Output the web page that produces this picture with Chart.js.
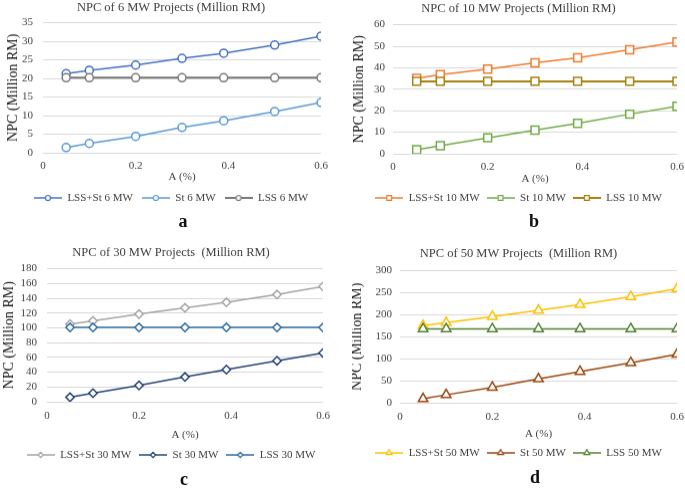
<!DOCTYPE html>
<html><head><meta charset="utf-8">
<script src="https://cdn.jsdelivr.net/npm/chart.js@4"></script>
<style>
html,body{margin:0;padding:0;background:#fff;}
body{width:685px;height:488px;position:relative;overflow:hidden;font-family:"Liberation Serif",serif;}
.box{position:absolute;}
.letter{position:absolute;font-weight:bold;font-size:18px;line-height:18px;transform:translate(-50%,-50%);color:#111;font-family:"Liberation Serif",serif;}
</style></head><body>
<div id="boxA" class="box"><canvas id="cA"></canvas></div>
<div id="boxB" class="box"><canvas id="cB"></canvas></div>
<div id="boxC" class="box"><canvas id="cC"></canvas></div>
<div id="boxD" class="box"><canvas id="cD"></canvas></div>
<div class="letter" style="left:183px;top:221px">a</div>
<div class="letter" style="left:534px;top:221px">b</div>
<div class="letter" style="left:184px;top:479px">c</div>
<div class="letter" style="left:535px;top:477px">d</div>
<script>
// ---- data ----
const xValues = [0.05, 0.1, 0.2, 0.3, 0.39, 0.5, 0.6];
const xTicks = [0, 0.2, 0.4, 0.6];

const lssSt6 = [21.3, 22.2, 23.6, 25.4, 26.8, 29.0, 31.4];
const st6    = [1.4, 2.5, 4.4, 6.8, 8.6, 11.1, 13.5];
const lss6   = [20.2, 20.2, 20.2, 20.2, 20.2, 20.2, 20.2];
const yTicks6 = [0, 5, 10, 15, 20, 25, 30, 35];

const lssSt10 = [35.1, 36.8, 39.4, 42.3, 44.6, 48.4, 52.0];
const st10    = [1.9, 3.7, 7.4, 11.0, 14.1, 18.4, 22.1];
const lss10   = [33.7, 33.7, 33.7, 33.7, 33.7, 33.7, 33.7];
const yTicks10 = [0, 10, 20, 30, 40, 50, 60];

const lssSt30 = [105, 109.5, 118.5, 127, 134.5, 145, 156];
const st30    = [6, 11.5, 22, 33.5, 43.5, 55.5, 66];
const lss30   = [100.5, 100.5, 100.5, 100.5, 100.5, 100.5, 100.5];
const yTicks30 = [0, 20, 40, 60, 80, 100, 120, 140, 160, 180];

const lssSt50 = [175, 182, 196, 210, 223, 241, 259];
const st50    = [9, 18, 35, 54, 71, 91, 110];
const lss50   = [168, 168, 168, 168, 168, 168, 168];
const yTicks50 = [0, 50, 100, 150, 200, 250, 300];

// ---- helpers ----
const FONT = "'Liberation Serif', 'Times New Roman', serif";
const TXT = '#3f3f3f';

function pts(ys){ return xValues.map((x,i)=>({x:x, y:ys[i]})); }

function legendImg(color, style, r, lw){
  const c = document.createElement('canvas');
  c.width = 28; c.height = 10;
  const ctx = c.getContext('2d');
  ctx.strokeStyle = color; ctx.lineWidth = lw;
  ctx.beginPath(); ctx.moveTo(0,5); ctx.lineTo(28,5); ctx.stroke();
  ctx.fillStyle = '#fff'; ctx.lineWidth = 1.2;
  Chart.helpers.drawPoint(ctx, {pointStyle: style, radius: r, rotation: 0, borderWidth: 1.2}, 14, 5);
  return c;
}

function makePanel(id, boxId, L, title, yTicks, series, style, radius, legR){
  const box = document.getElementById(boxId);
  const titlePadTop = L.titleY - L.top - 7.2;
  const titlePadBottom = L.plotTop - L.top - 14.4 - titlePadTop;
  const xHeight = L.axisTitleY + 6.6 - L.plotBottom;
  const tickPad = L.tickY - 6.6 - L.plotBottom;
  const legendTop = L.axisTitleY + 6.6;
  const legPad = L.legendY - legendTop - 5.5;
  const H = legendTop - L.top + 21 + legPad;
  box.style.left = L.left + 'px'; box.style.top = L.top + 'px';
  box.style.width = L.width + 'px'; box.style.height = H + 'px';
  const imgs = series.map(s => legendImg(s.color, style, legR, s.width));
  const datasets = series.map((s,i) => ({
    label: s.label, data: pts(s.values), showLine: true,
    borderColor: s.color, borderWidth: s.width, backgroundColor: s.color,
    pointStyle: style, pointRadius: radius, pointBorderWidth: 1.5,
    pointBorderColor: s.color, pointBackgroundColor: '#fff',
    order: series.length - i
  }));
  new Chart(document.getElementById(id), {
    type: 'scatter',
    data: { datasets },
    options: {
      responsive: true, maintainAspectRatio: false, animation: false,
      layout: { padding: 0 },
      plugins: {
        tooltip: { enabled: false },
        title: { display: true, text: title, color: TXT,
                 font: { family: FONT, size: 12.5, weight: 'normal', lineHeight: 1.2 },
                 padding: { top: titlePadTop, bottom: titlePadBottom } },
        legend: { position: 'bottom',
          labels: { usePointStyle: true, pointStyleWidth: 28, padding: legPad, color: TXT,
                    font: { family: FONT, size: 11 },
                    generateLabels: () => series.map((s,i) => ({
                      text: s.label, pointStyle: imgs[i], fillStyle: s.color, strokeStyle: s.color,
                      lineWidth: 0, hidden: false, datasetIndex: i, fontColor: TXT })) } }
      },
      scales: {
        x: { type: 'linear', min: xTicks[0], max: xTicks[xTicks.length-1],
             grid: { display: false, drawTicks: false }, border: { display: false },
             afterBuildTicks: s => { s.ticks = xTicks.map(v => ({value: v})); },
             ticks: { padding: tickPad, color: TXT, font: { family: FONT, size: 11 },
                      autoSkip: false, maxRotation: 0, callback: v => String(v) },
             title: { display: true, text: 'A (%)', color: TXT, padding: 0,
                      font: { family: FONT, size: 11, lineHeight: 1.2 } },
             afterFit: s => { s.height = xHeight; s.paddingLeft = 0; s.paddingRight = L.left + L.width - L.plotRight; } },
        y: { type: 'linear', min: yTicks[0], max: yTicks[yTicks.length-1],
             grid: { color: '#d9d9d9', lineWidth: 1, drawTicks: false }, border: { display: false },
             afterBuildTicks: s => { s.ticks = yTicks.map(v => ({value: v})); },
             ticks: { padding: L.yTickPad, color: TXT, font: { family: FONT, size: 11 }, autoSkip: false },
             title: { display: true, text: 'NPC (Million RM)', color: '#222',
                      padding: { top: L.yTitleX - L.left - 7, bottom: 0 },
                      font: { family: FONT, size: 14, weight: 'normal', lineHeight: 1 } },
             afterFit: s => { s.width = L.plotLeft - L.left; s.paddingTop = 0; s.paddingBottom = 0; } }
      }
    }
  });
}

makePanel('cA', 'boxA',
  { left:0, top:0, width:342, plotLeft:43, plotRight:321, plotTop:22, plotBottom:152,
    titleY:7.5, tickY:165, axisTitleY:176, legendY:197, yTitleX:13, yTickPad:10 },
  'NPC of 6 MW Projects (Million RM)', yTicks6,
  [ {label:'LSS+St 6 MW', values:lssSt6, color:'#4472C4', width:1.5},
    {label:'St 6 MW', values:st6, color:'#5B9BD5', width:1.5},
    {label:'LSS 6 MW', values:lss6, color:'#7a7a7a', width:2} ],
  'circle', 4, 2.5);

makePanel('cB', 'boxB',
  { left:352, top:0, width:333, plotLeft:393, plotRight:677, plotTop:24, plotBottom:153,
    titleY:8, tickY:166, axisTitleY:178, legendY:197, yTitleX:359, yTickPad:8 },
  'NPC of 10 MW Projects (Million RM)', yTicks10,
  [ {label:'LSS+St 10 MW', values:lssSt10, color:'#ED7D31', width:1.5},
    {label:'St 10 MW', values:st10, color:'#70AD47', width:1.5},
    {label:'LSS 10 MW', values:lss10, color:'#A5820F', width:2} ],
  'rect', 5.6, 3.4);

makePanel('cC', 'boxC',
  { left:0, top:244, width:342, plotLeft:47, plotRight:323, plotTop:268, plotBottom:401,
    titleY:252, tickY:415, axisTitleY:434, legendY:454, yTitleX:9, yTickPad:10 },
  'NPC of 30 MW Projects  (Million RM)', yTicks30,
  [ {label:'LSS+St 30 MW', values:lssSt30, color:'#A5A5A5', width:1.5},
    {label:'St 30 MW', values:st30, color:'#264478', width:1.5},
    {label:'LSS 30 MW', values:lss30, color:'#2E6DA4', width:1.5} ],
  'rectRot', 4.2, 2.6);

makePanel('cD', 'boxD',
  { left:352, top:244, width:333, plotLeft:400, plotRight:677, plotTop:270, plotBottom:402,
    titleY:253, tickY:416, axisTitleY:433, legendY:452, yTitleX:357, yTickPad:8 },
  'NPC of 50 MW Projects  (Million RM)', yTicks50,
  [ {label:'LSS+St 50 MW', values:lssSt50, color:'#FFC000', width:1.5},
    {label:'St 50 MW', values:st50, color:'#9E480E', width:1.5},
    {label:'LSS 50 MW', values:lss50, color:'#548235', width:1.5} ],
  'triangle', 5.5, 3.4);
</script>
</body></html>
